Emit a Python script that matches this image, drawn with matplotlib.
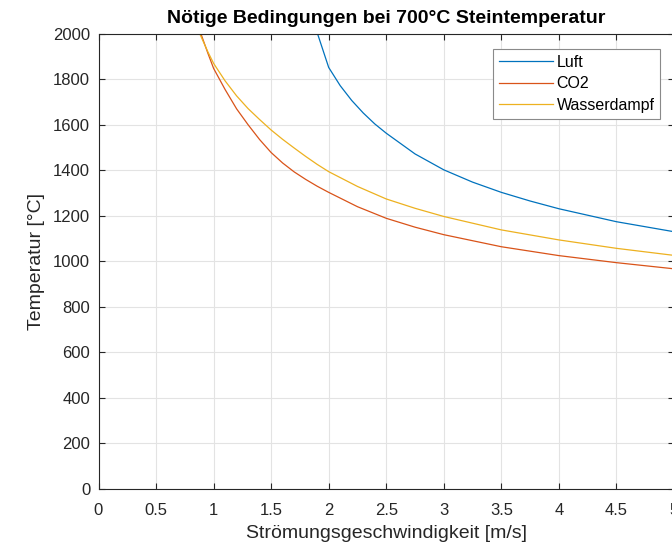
import matplotlib

matplotlib.use("Agg")
import matplotlib.pyplot as plt

# values
luft_v = [1.9, 2.0, 2.1, 2.2, 2.3, 2.4, 2.5, 2.75, 3.0, 3.25, 3.5, 3.75, 4.0, 4.5, 5.0]
luft_t = [2005, 1852, 1772, 1707, 1652, 1604, 1563, 1472, 1402, 1348, 1303, 1265, 1231, 1174, 1130]

co2_v = [0.89, 0.95, 1.0, 1.1, 1.2, 1.3, 1.4, 1.5, 1.6, 1.7, 1.8, 1.9, 2.0,
         2.25, 2.5, 2.75, 3.0, 3.5, 4.0, 4.5, 5.0]
co2_t = [2000, 1915, 1848, 1755, 1670, 1600, 1535, 1478, 1432, 1393, 1360, 1330, 1303,
         1240, 1189, 1150, 1117, 1064, 1025, 994, 967]

wd_v = [0.88, 0.95, 1.0, 1.1, 1.2, 1.3, 1.4, 1.5, 1.6, 1.7, 1.8, 1.9, 2.0,
        2.25, 2.5, 2.75, 3.0, 3.5, 4.0, 4.5, 5.0]
wd_t = [2000, 1921, 1870, 1793, 1727, 1671, 1623, 1577, 1536, 1498, 1461, 1426, 1394,
        1329, 1274, 1233, 1197, 1138, 1094, 1057, 1026]

labels = ["Luft", "CO2", "Wasserdampf"]
colors = ["#0072BD", "#D95319", "#EDB120"]

plt.rcParams["font.family"] = ["Liberation Sans", "DejaVu Sans"]

fig = plt.figure(figsize=(6.72, 5.44), dpi=100)
ax = fig.add_axes([98.5 / 672, 1 - 488.8 / 544, 575.5 / 672, 455 / 544])

for v, t, lab, c in zip([luft_v, co2_v, wd_v], [luft_t, co2_t, wd_t], labels, colors):
    ax.plot(v, t, color=c, linewidth=0.9, label=lab)

ax.set_xlim(0, 5)
ax.set_ylim(0, 2000)
ax.set_xticks([0, 0.5, 1, 1.5, 2, 2.5, 3, 3.5, 4, 4.5, 5])
ax.set_xticklabels(["0", "0.5", "1", "1.5", "2", "2.5", "3", "3.5", "4", "4.5", "5"])
ax.set_yticks(range(0, 2001, 200))
ax.grid(True, color="#e3e3e3", linewidth=0.8)
ax.set_axisbelow(True)
ax.tick_params(direction="in", length=4.5, width=0.8, top=True, right=True,
               labelsize=12, colors="#262626", pad=6)
ax.tick_params(axis="x", pad=10)
for s in ax.spines.values():
    s.set_color("#262626")
    s.set_linewidth(0.8)

ax.set_xlabel("Strömungsgeschwindigkeit [m/s]", fontsize=14, color="#262626", labelpad=5)
ax.set_ylabel("Temperatur [°C]", fontsize=14, color="#262626", labelpad=6)
ax.set_title("Nötige Bedingungen bei 700°C Steintemperatur", fontsize=14,
             fontweight="bold", pad=8)

leg = ax.legend(loc="upper right", bbox_to_anchor=(0.9757, 0.9666), borderaxespad=0,
                fontsize=11.5, fancybox=False, framealpha=1, edgecolor="#8a8a8a",
                handlelength=3.4, handletextpad=0.2, borderpad=0.35, labelspacing=0.42)
leg.get_frame().set_linewidth(0.8)

fig.savefig("out.png", dpi=100)
